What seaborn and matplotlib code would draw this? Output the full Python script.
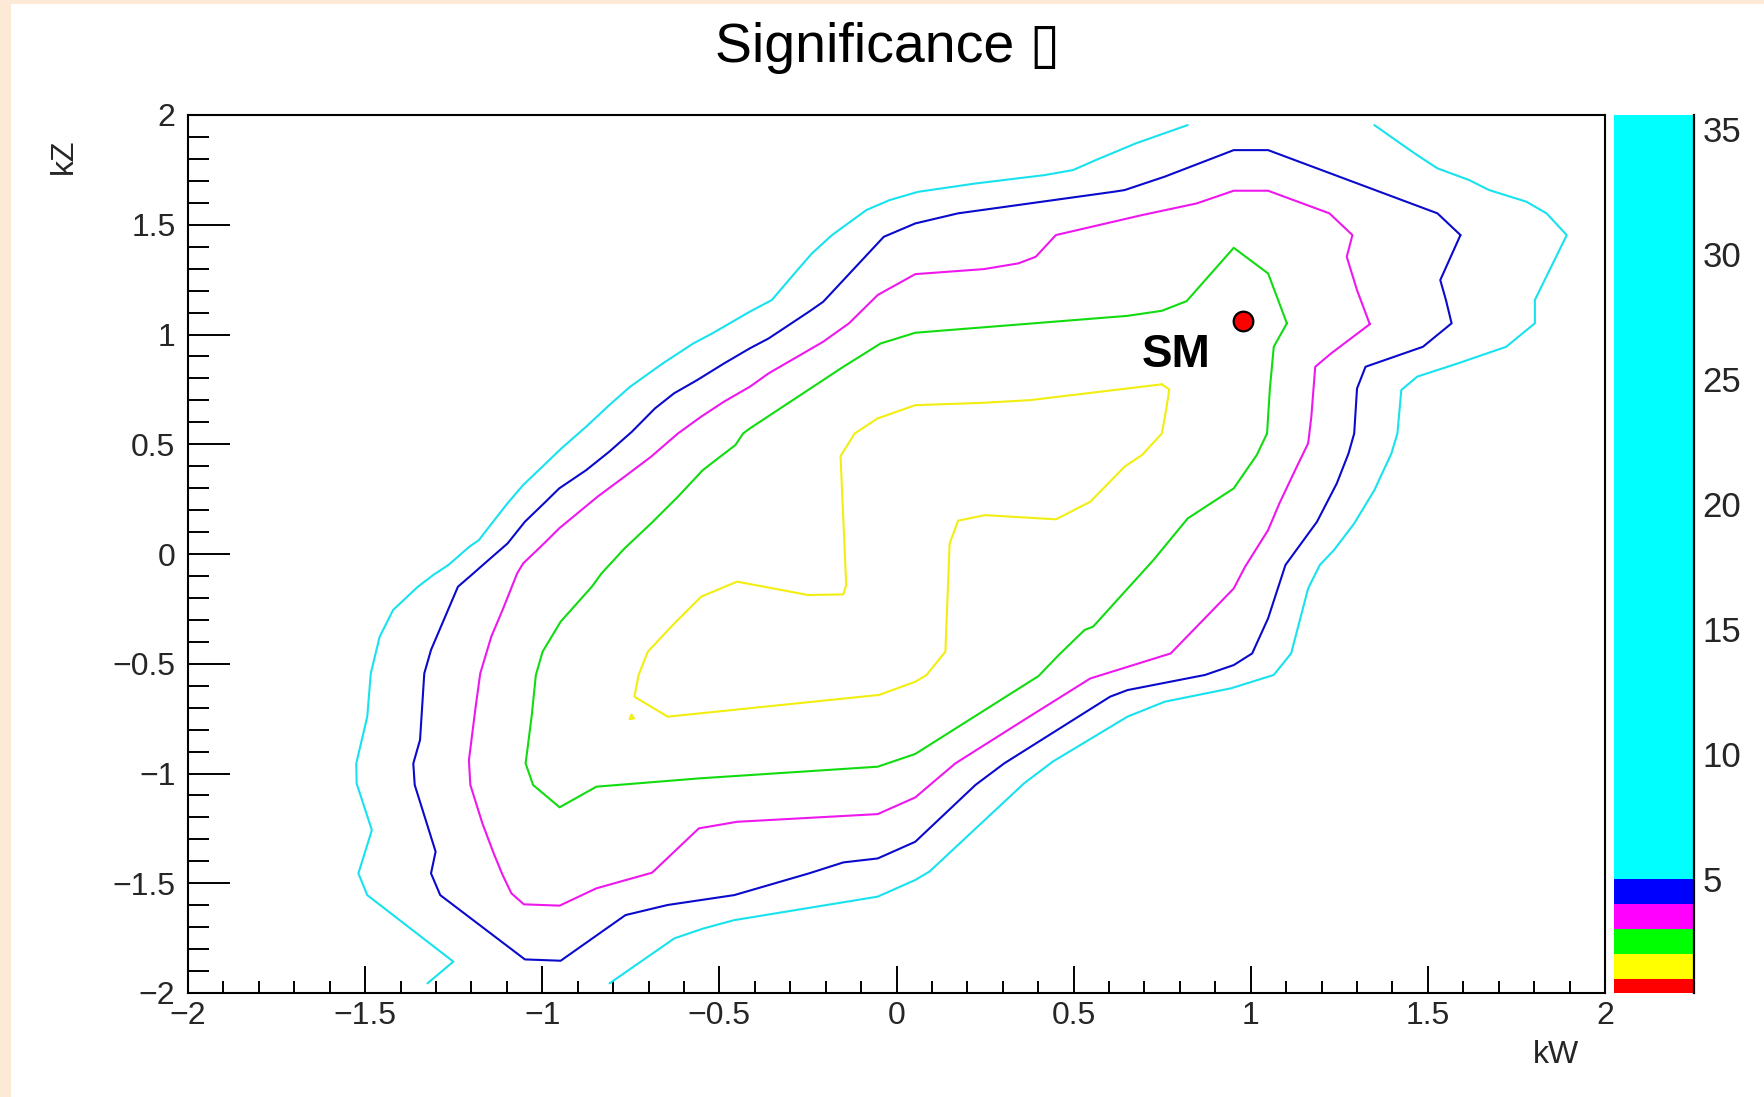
import numpy as np
import pandas as pd
import matplotlib
matplotlib.use("Agg")
import matplotlib.pyplot as plt
from matplotlib.ticker import MultipleLocator
from matplotlib.patches import Rectangle
import seaborn as sns

# ---------------- data ----------------
TITLE = "Significance \u25af"
X_LABEL = "kW"
Y_LABEL = "kZ"
AXIS_TICKS = [-2, -1.5, -1, -0.5, 0, 0.5, 1, 1.5, 2]
AXIS_TICK_LABELS = ["\u22122", "\u22121.5", "\u22121", "\u22120.5", "0", "0.5", "1", "1.5", "2"]

CBAR_LEVELS = [0.42, 1, 2, 3, 4, 5, 35.55]
CBAR_COLORS = ["#FF0000", "#FFFF00", "#00FF00", "#FF00FF", "#0000FF", "#00FFFF"]
CBAR_TICKS = [5, 10, 15, 20, 25, 30, 35]
CBAR_TICK_LABELS = ["5", "10", "15", "20", "25", "30", "35"]

SM_POINT = (0.978, 1.063)
SM_LABEL = "SM"

# contour level 1 (yellow)
CONTOUR_1 = [(0.749, 0.773), (0.770, 0.750), (0.761, 0.656), (0.749, 0.549), (0.693, 0.451),
             (0.644, 0.398), (0.547, 0.238), (0.450, 0.158), (0.250, 0.177), (0.174, 0.152),
             (0.150, 0.048), (0.138, -0.445), (0.085, -0.551), (0.053, -0.582), (-0.049, -0.642),
             (-0.555, -0.726), (-0.646, -0.741), (-0.740, -0.650), (-0.728, -0.551), (-0.702, -0.445),
             (-0.627, -0.316), (-0.551, -0.194), (-0.450, -0.126), (-0.249, -0.187), (-0.150, -0.184),
             (-0.142, -0.141), (-0.158, 0.446), (-0.118, 0.549), (-0.053, 0.618), (0.053, 0.678),
             (0.247, 0.689), (0.377, 0.701), (0.749, 0.773)]
CONTOUR_1_SPECK = [(-0.753, -0.752), (-0.741, -0.749), (-0.748, -0.732), (-0.753, -0.752)]

# contour level 2 (green)
CONTOUR_2 = [(1.102, 1.051), (1.049, 1.278), (0.952, 1.395), (0.819, 1.152), (0.749, 1.108),
             (0.652, 1.085), (0.053, 1.008), (-0.045, 0.959), (-0.150, 0.853), (-0.414, 0.572),
             (-0.433, 0.549), (-0.455, 0.496), (-0.498, 0.443), (-0.547, 0.382), (-0.617, 0.261),
             (-0.693, 0.139), (-0.768, 0.025), (-0.833, -0.089), (-0.860, -0.149), (-0.948, -0.308),
             (-0.999, -0.445), (-1.018, -0.551), (-1.030, -0.741), (-1.047, -0.954), (-1.026, -1.052),
             (-0.951, -1.154), (-0.847, -1.060), (-0.555, -1.022), (-0.053, -0.969), (0.053, -0.911),
             (0.401, -0.556), (0.458, -0.460), (0.531, -0.346), (0.555, -0.331), (0.725, -0.028),
             (0.822, 0.162), (0.952, 0.299), (1.017, 0.451), (1.046, 0.549), (1.054, 0.754),
             (1.065, 0.944), (1.102, 1.051)]

# contour level 3 (magenta)
CONTOUR_3 = [(1.336, 1.047), (1.300, 1.202), (1.271, 1.354), (1.287, 1.453), (1.222, 1.552),
             (1.049, 1.655), (0.952, 1.655), (0.847, 1.597), (0.693, 1.544), (0.450, 1.453),
             (0.393, 1.354), (0.344, 1.324), (0.247, 1.298), (0.053, 1.275), (-0.053, 1.180),
             (-0.134, 1.051), (-0.207, 0.967), (-0.361, 0.823), (-0.414, 0.762), (-0.487, 0.694),
             (-0.552, 0.625), (-0.617, 0.549), (-0.693, 0.443), (-0.768, 0.352), (-0.844, 0.261),
             (-0.952, 0.117), (-0.995, 0.048), (-1.054, -0.043), (-1.071, -0.089), (-1.112, -0.255),
             (-1.144, -0.377), (-1.175, -0.544), (-1.188, -0.696), (-1.207, -0.939), (-1.203, -1.052),
             (-1.169, -1.227), (-1.137, -1.364), (-1.112, -1.462), (-1.087, -1.546), (-1.052, -1.596),
             (-0.951, -1.602), (-0.847, -1.523), (-0.690, -1.452), (-0.558, -1.250), (-0.450, -1.220),
             (-0.053, -1.185), (0.053, -1.109), (0.166, -0.954), (0.360, -0.756), (0.547, -0.567),
             (0.774, -0.453), (0.952, -0.157), (0.984, -0.058), (1.049, 0.109), (1.081, 0.231),
             (1.130, 0.398), (1.162, 0.504), (1.171, 0.625), (1.182, 0.853), (1.227, 0.914),
             (1.336, 1.047)]

# contour level 4 (blue)
CONTOUR_4 = [(1.592, 1.453), (1.527, 1.552), (1.049, 1.840), (0.952, 1.840), (0.757, 1.719),
             (0.644, 1.658), (0.612, 1.650), (0.174, 1.552), (0.053, 1.506), (-0.036, 1.445),
             (-0.207, 1.149), (-0.247, 1.104), (-0.361, 0.982), (-0.414, 0.937), (-0.487, 0.868),
             (-0.563, 0.792), (-0.628, 0.732), (-0.682, 0.663), (-0.747, 0.557), (-0.811, 0.466),
             (-0.876, 0.382), (-0.952, 0.299), (-0.995, 0.231), (-1.049, 0.147), (-1.098, 0.048),
             (-1.157, -0.035), (-1.200, -0.096), (-1.238, -0.149), (-1.314, -0.437), (-1.333, -0.544),
             (-1.345, -0.847), (-1.364, -0.954), (-1.360, -1.052), (-1.301, -1.356), (-1.314, -1.455),
             (-1.288, -1.554), (-1.049, -1.847), (-0.948, -1.853), (-0.765, -1.645), (-0.646, -1.599),
             (-0.458, -1.554), (-0.247, -1.455), (-0.150, -1.405), (-0.053, -1.387), (0.053, -1.311),
             (0.223, -1.052), (0.304, -0.954), (0.603, -0.650), (0.652, -0.620), (0.871, -0.551),
             (0.952, -0.506), (1.004, -0.453), (1.049, -0.293), (1.098, -0.050), (1.187, 0.147),
             (1.243, 0.322), (1.276, 0.458), (1.292, 0.549), (1.300, 0.754), (1.324, 0.853),
             (1.486, 0.944), (1.567, 1.051), (1.551, 1.157), (1.535, 1.248), (1.592, 1.453)]

# contour level 5 (cyan), two open branches
CONTOUR_5_LEFT = [(0.822, 1.954), (0.676, 1.871), (0.563, 1.795), (0.498, 1.749), (0.417, 1.726),
                  (0.223, 1.688), (0.061, 1.650), (-0.020, 1.612), (-0.085, 1.567), (-0.182, 1.453),
                  (-0.239, 1.369), (-0.288, 1.278), (-0.352, 1.157), (-0.414, 1.104), (-0.520, 1.005),
                  (-0.574, 0.959), (-0.660, 0.868), (-0.752, 0.762), (-0.811, 0.678), (-0.876, 0.580),
                  (-0.946, 0.481), (-0.995, 0.405), (-1.054, 0.314), (-1.098, 0.231), (-1.135, 0.155),
                  (-1.179, 0.063), (-1.206, 0.033), (-1.265, -0.050), (-1.308, -0.096), (-1.351, -0.149),
                  (-1.421, -0.255), (-1.459, -0.377), (-1.484, -0.544), (-1.494, -0.741), (-1.525, -0.954),
                  (-1.524, -1.045), (-1.481, -1.258), (-1.519, -1.455), (-1.494, -1.554), (-1.251, -1.857),
                  (-1.324, -1.956)]
CONTOUR_5_RIGHT = [(1.349, 1.954), (1.422, 1.871), (1.470, 1.817), (1.527, 1.757), (1.616, 1.704),
                   (1.673, 1.658), (1.778, 1.605), (1.835, 1.552), (1.892, 1.453), (1.802, 1.157),
                   (1.802, 1.051), (1.721, 0.944), (1.584, 0.868), (1.470, 0.808), (1.425, 0.747),
                   (1.414, 0.549), (1.397, 0.458), (1.349, 0.291), (1.292, 0.139), (1.235, 0.018),
                   (1.195, -0.050), (1.162, -0.157), (1.114, -0.453), (1.065, -0.551), (0.944, -0.612),
                   (0.757, -0.673), (0.652, -0.741), (0.441, -0.946), (0.360, -1.045), (0.093, -1.447),
                   (0.053, -1.485), (-0.053, -1.561), (-0.458, -1.668), (-0.545, -1.706), (-0.627, -1.751),
                   (-0.810, -1.956)]

LINE_COLOR_1 = "#F2EE10"
LINE_COLOR_2 = "#10DC10"
LINE_COLOR_3 = "#EE18EE"
LINE_COLOR_4 = "#0A0ACC"
LINE_COLOR_5 = "#18E2EE"

# ---------------- style ----------------
sns.set_style("white")
plt.rcParams["font.family"] = ["Liberation Sans", "DejaVu Sans"]

W, H = 1764, 1097
fig = plt.figure(figsize=(W / 100, H / 100), dpi=100)
fig.patch.set_facecolor("#FCEAD6")
fig.add_artist(Rectangle((11 / W, 0), 1 - 11 / W, 1 - 4 / H, transform=fig.transFigure,
                         facecolor="white", edgecolor="none", zorder=-5))

ax_l, ax_r, ax_t, ax_b = 188, 1605, 115, 993
ax = fig.add_axes([ax_l / W, 1 - ax_b / H, (ax_r - ax_l) / W, (ax_b - ax_t) / H])
ax.set_facecolor("white")

segments = [
    (CONTOUR_1, LINE_COLOR_1),
    (CONTOUR_1_SPECK, LINE_COLOR_1),
    (CONTOUR_2, LINE_COLOR_2),
    (CONTOUR_3, LINE_COLOR_3),
    (CONTOUR_4, LINE_COLOR_4),
    (CONTOUR_5_LEFT, LINE_COLOR_5),
    (CONTOUR_5_RIGHT, LINE_COLOR_5),
]
for pts, col in segments:
    df = pd.DataFrame(pts, columns=["kW", "kZ"])
    sns.lineplot(data=df, x="kW", y="kZ", sort=False, estimator=None, color=col,
                 linewidth=1.5, ax=ax)

sm_df = pd.DataFrame([SM_POINT], columns=["kW", "kZ"])
sns.scatterplot(data=sm_df, x="kW", y="kZ", s=200, color="#FF0000", edgecolor="black",
                linewidth=1.6, ax=ax, zorder=5)
ax.text(0.789, 0.852, SM_LABEL, ha="center", va="baseline", fontsize=33, fontweight="bold",
        color="black")

ax.set_xlim(-2, 2)
ax.set_ylim(-2, 2)
ax.set_xticks(AXIS_TICKS)
ax.set_xticklabels(AXIS_TICK_LABELS)
ax.set_yticks(AXIS_TICKS)
ax.set_yticklabels(AXIS_TICK_LABELS)
ax.xaxis.set_minor_locator(MultipleLocator(0.1))
ax.yaxis.set_minor_locator(MultipleLocator(0.1))
ax.tick_params(axis="both", which="both", direction="in", top=False, right=False,
               bottom=True, left=True, color="black", width=1.4)
ax.tick_params(axis="y", which="major", length=30, pad=9, labelsize=23)
ax.tick_params(axis="y", which="minor", length=15)
ax.tick_params(axis="x", which="major", length=19.5, pad=6, labelsize=23)
ax.tick_params(axis="x", which="minor", length=9)
for sp in ax.spines.values():
    sp.set_visible(True)
    sp.set_color("black")
    sp.set_linewidth(1.5)

ax.set_xlabel(X_LABEL, fontsize=23, ha="right", va="top")
ax.xaxis.set_label_coords((1579 - ax_l) / (ax_r - ax_l), -(1040 - ax_b) / (ax_b - ax_t))
ax.set_ylabel(Y_LABEL, fontsize=23, ha="right", va="center")
ax.yaxis.set_label_coords((64 - ax_l) / (ax_r - ax_l), (ax_b - 139) / (ax_b - ax_t))

fig.text(888 / W, 1 - 62 / H, TITLE, ha="center", va="baseline", fontsize=40, color="black")

# ---------------- palette (colour bar) ----------------
cb_l, cb_r = 1614, 1694
cax = fig.add_axes([cb_l / W, 1 - ax_b / H, (cb_r - cb_l) / W, (ax_b - ax_t) / H])
cax.set_facecolor("none")
cax.bar(x=[0] * len(CBAR_COLORS), height=np.diff(CBAR_LEVELS), bottom=CBAR_LEVELS[:-1],
        width=1.0, color=CBAR_COLORS, linewidth=0, align="center")
cax.set_xlim(-0.5, 0.5)
cax.set_ylim(CBAR_LEVELS[0], CBAR_LEVELS[-1])
cax.set_xticks([])
cax.yaxis.tick_right()
cax.set_yticks(CBAR_TICKS)
cax.set_yticklabels(CBAR_TICK_LABELS)
cax.tick_params(axis="y", which="both", direction="in", length=29.5, width=1.4, pad=6,
                labelsize=25, color="black", right=True, left=False)
for name, sp in cax.spines.items():
    sp.set_visible(name == "right")
cax.spines["right"].set_color("black")
cax.spines["right"].set_linewidth(1.6)

fig.savefig("out.png", dpi=100, facecolor=fig.get_facecolor())
